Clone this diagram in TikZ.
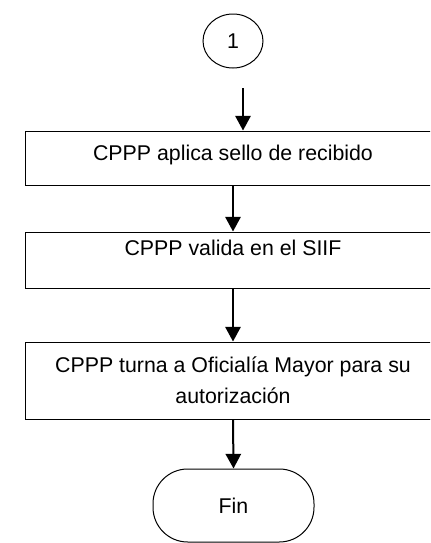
\documentclass[tikz,border=0pt]{standalone}
\usepackage{fontspec}
\setmainfont{Liberation Sans}
\usetikzlibrary{arrows.meta,shapes.geometric}

\tikzset{
  paso/.style={draw,line width=.75pt,minimum width=312pt,inner sep=0pt,
    font=\fontsize{16}{23.25}\selectfont,align=center},
  flecha/.style={line width=1.5pt,-{Triangle[length=11pt,width=11.5pt]}}
}

\begin{document}
\begin{tikzpicture}[x=.75pt,y=-.75pt]
\useasboundingbox (0,0) rectangle (430,543);
\clip (0,0) rectangle (430,543);
\node[draw,ellipse,line width=.75pt,minimum width=45pt,minimum height=40.5pt,inner sep=0pt,
  font=\fontsize{16}{19}\selectfont] (c1) at (233,41) {1};
\coordinate (a1) at (243,88);
\node[paso,minimum height=40.5pt,text height=12pt,text depth=9pt] (p1) at (233,158) {CPPP aplica sello de recibido};
\node[paso,minimum height=42pt,text height=12pt,text depth=19pt] (p2) at (233,260) {CPPP valida en el SIIF};
\node[paso,minimum height=57.75pt] (p3) at (233,380.5)
  {CPPP turna a Oficialía Mayor para su\\autorización};
\node[draw,line width=.75pt,rounded corners=26pt,minimum width=120.75pt,minimum height=54.75pt,
  font=\fontsize{16}{19}\selectfont] (fin) at (233.5,505.5) {Fin};
\draw[flecha] (a1) -- (a1 |- p1.north);
\draw[flecha] (p1.south) -- (p2.north);
\draw[flecha] (p2.south) -- (p3.north);
\draw[flecha] (p3.south) -- (fin.north);
\end{tikzpicture}
\end{document}
